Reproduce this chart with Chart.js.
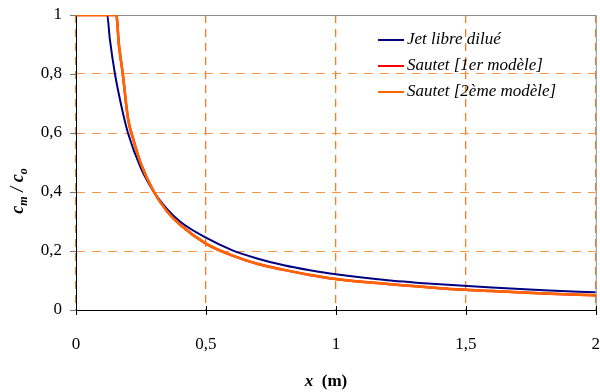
<!DOCTYPE html>
<html lang="fr">
<head>
<meta charset="UTF-8">
<title>cm / co</title>
<script src="https://cdn.jsdelivr.net/npm/chart.js@4"></script>
<style>
  html, body { margin: 0; padding: 0; background: #fff; }
  #wrap { width: 600px; height: 392px; position: relative; }
</style>
</head>
<body>
<div id="wrap"><canvas id="chart"></canvas></div>
<script>
// values
const jetX = [0, 0.12, 0.13, 0.15, 0.175, 0.2, 0.25, 0.3, 0.35, 0.4, 0.5, 0.6, 0.7, 0.8, 0.9, 1.0, 1.2, 1.4, 1.6, 1.8, 2.0];
const jetY = [1, 1, 0.92, 0.80, 0.69, 0.60, 0.48, 0.40, 0.343, 0.30, 0.245, 0.203, 0.174, 0.152, 0.135, 0.121, 0.101, 0.087, 0.076, 0.067, 0.06];

const sautetX = [0, 0.155, 0.165, 0.18, 0.2, 0.22, 0.25, 0.3, 0.35, 0.4, 0.5, 0.6, 0.7, 0.8, 0.9, 1.0, 1.2, 1.4, 1.6, 1.8, 2.0];
const sautet1Y = [1, 1, 0.90, 0.80, 0.65, 0.58, 0.495, 0.40, 0.335, 0.29, 0.225, 0.185, 0.156, 0.136, 0.119, 0.105, 0.088, 0.074, 0.064, 0.056, 0.05];
const sautet2Y = [1, 1, 0.90, 0.80, 0.65, 0.58, 0.495, 0.40, 0.335, 0.29, 0.225, 0.185, 0.156, 0.136, 0.119, 0.105, 0.088, 0.074, 0.064, 0.056, 0.05];

const seriesNames = ['Jet libre dilué', 'Sautet [1er modèle]', 'Sautet [2ème modèle]'];
const xTicks = [0, 0.5, 1, 1.5, 2];
const yTicks = [0, 0.2, 0.4, 0.6, 0.8, 1];

const serif = '"Liberation Serif", "Times New Roman", serif';
const fmt = v => String(v).replace('.', ',');
const pts = (xs, ys) => xs.map((x, i) => ({ x: x, y: ys[i] }));

// frame, tick marks, legend and axis titles
const decor = {
  id: 'decor',
  beforeDatasetsDraw(chart) {
    const { ctx, chartArea: a, scales: { x, y } } = chart;
    ctx.save();
    ctx.strokeStyle = '#8c8c8c';
    ctx.lineWidth = 1;
    ctx.beginPath();
    ctx.moveTo(a.left, a.top + 0.5); ctx.lineTo(a.right + 0.5, a.top + 0.5);
    ctx.lineTo(a.right + 0.5, a.bottom);
    ctx.stroke();
    ctx.strokeStyle = '#000';
    ctx.beginPath();
    ctx.moveTo(a.left + 0.5, a.top); ctx.lineTo(a.left + 0.5, a.bottom + 0.5);
    ctx.lineTo(a.right, a.bottom + 0.5);
    xTicks.forEach(v => {
      const px = Math.round(x.getPixelForValue(v)) + 0.5;
      ctx.moveTo(px, a.bottom - 4); ctx.lineTo(px, a.bottom + 5);
    });
    ctx.stroke();
    ctx.strokeStyle = '#777';
    ctx.beginPath();
    yTicks.forEach(v => {
      const py = Math.round(y.getPixelForValue(v)) + 0.5;
      ctx.moveTo(a.left - 6, py); ctx.lineTo(a.left, py);
    });
    ctx.stroke();
    ctx.restore();
  },
  afterDraw(chart) {
    const { ctx } = chart;
    ctx.save();
    // legend
    ctx.font = 'italic 17px ' + serif;
    ctx.textBaseline = 'middle';
    chart.data.datasets.forEach((ds, i) => {
      const yy = 40 + i * 26;
      ctx.strokeStyle = ds.borderColor;
      ctx.lineWidth = 2;
      ctx.beginPath();
      ctx.moveTo(378, yy); ctx.lineTo(404, yy);
      ctx.stroke();
      ctx.fillStyle = '#000';
      ctx.fillText(ds.label, 407, yy);
    });
    // x title
    ctx.textBaseline = 'alphabetic';
    ctx.font = 'bold italic 17px ' + serif;
    const w1 = ctx.measureText('x').width;
    ctx.font = 'bold 17px ' + serif;
    const w2 = ctx.measureText('  (m)').width;
    const sx = 326 - (w1 + w2) / 2;
    ctx.font = 'bold italic 17px ' + serif;
    ctx.fillText('x', sx, 386);
    ctx.font = 'bold 17px ' + serif;
    ctx.fillText('  (m)', sx + w1, 386);
    // y title with subscripts
    ctx.translate(23, 191);
    ctx.rotate(-Math.PI / 2);
    const parts = [['c', 18, 0], ['m', 12, 4], [' / ', 18, 0], ['c', 18, 0], ['o', 12, 4]];
    let total = 0;
    parts.forEach(p => { ctx.font = 'bold italic ' + p[1] + 'px ' + serif; total += ctx.measureText(p[0]).width; });
    let cx = -total / 2;
    parts.forEach(p => {
      ctx.font = 'bold italic ' + p[1] + 'px ' + serif;
      ctx.fillText(p[0], cx, p[2]);
      cx += ctx.measureText(p[0]).width;
    });
    ctx.restore();
  }
};

new Chart(document.getElementById('chart'), {
  type: 'line',
  data: {
    datasets: [
      { label: seriesNames[0], data: pts(jetX, jetY), borderColor: '#000080', borderWidth: 2, order: 1 },
      { label: seriesNames[1], data: pts(sautetX, sautet1Y), borderColor: '#ff0000', borderWidth: 2.5, order: 2 },
      { label: seriesNames[2], data: pts(sautetX, sautet2Y), borderColor: '#ff6600', borderWidth: 2.5, order: 0 }
    ]
  },
  options: {
    responsive: true,
    maintainAspectRatio: false,
    animation: false,
    layout: { padding: { top: 15, right: 4, left: 0, bottom: 0 } },
    elements: {
      point: { radius: 0 },
      line: { cubicInterpolationMode: 'monotone', fill: false }
    },
    plugins: { legend: { display: false }, tooltip: { enabled: false } },
    scales: {
      x: {
        type: 'linear', min: 0, max: 2,
        afterFit: s => { s.height = 82; },
        afterBuildTicks: s => { s.ticks = xTicks.map(v => ({ value: v })); },
        border: { display: false, dash: [8, 6] },
        grid: {
          drawTicks: true, tickLength: 24, tickColor: 'rgba(0,0,0,0)',
          color: '#ff7a1a', lineWidth: 1.3
        },
        ticks: {
          padding: 0, color: '#000', maxRotation: 0,
          font: { family: serif, size: 17 },
          callback: v => fmt(v)
        }
      },
      y: {
        min: 0, max: 1,
        afterFit: s => { s.width = 76; },
        afterBuildTicks: s => { s.ticks = yTicks.map(v => ({ value: v })); },
        border: { display: false, dash: [9, 7] },
        grid: {
          drawTicks: true, tickLength: 14, tickColor: 'rgba(0,0,0,0)',
          color: '#ff9447'
        },
        ticks: {
          padding: 0, color: '#000',
          font: { family: serif, size: 17 },
          callback: v => fmt(v)
        }
      }
    }
  },
  plugins: [decor]
});
</script>
</body>
</html>
